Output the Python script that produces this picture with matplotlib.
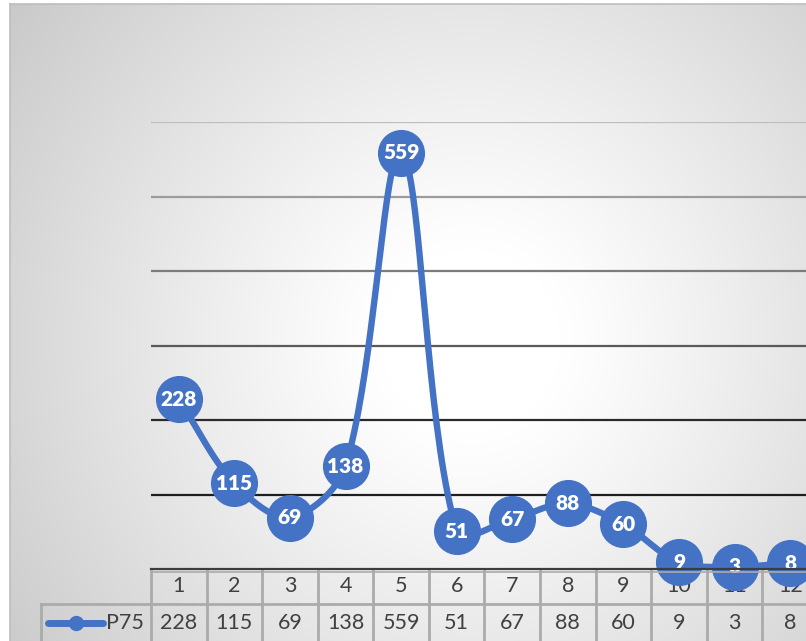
import matplotlib.pyplot as plt
import numpy as np
from matplotlib.transforms import blended_transform_factory

# P75 by month
months = ["1", "2", "3", "4", "5", "6", "7", "8", "9", "10", "11", "12"]
p75 = [228, 115, 69, 138, 559, 51, 67, 88, 60, 9, 3, 8]
series_name = "P75"
y_ticks = [0, 100, 200, 300, 400, 500, 600]

BLUE = "#4472C4"
W, H = 806, 641


def smooth_curve(x, y, sx=1.0, sy=1.0, tension=1 / 3, steps=40):
    # Bezier through every point; control arms are split by the
    # neighbouring segment lengths so short segments do not overshoot
    p = np.column_stack([np.asarray(x, float) * sx, np.asarray(y, float) * sy])
    n = len(p)
    out = []
    t = np.linspace(0, 1, steps)[:, None]
    for i in range(n - 1):
        p0, p3 = p[i], p[i + 1]
        prev = p[i - 1] if i > 0 else p[i]
        nxt = p[i + 2] if i + 2 < n else p[i + 1]
        d0 = p3 - prev
        l_a, l_b = np.linalg.norm(p0 - prev), np.linalg.norm(p3 - p0)
        c1 = p0 + d0 * tension * l_b / max(l_a + l_b, 1e-9)
        d1 = nxt - p0
        l_c = np.linalg.norm(nxt - p3)
        c2 = p3 - d1 * tension * l_b / max(l_b + l_c, 1e-9)
        b = (1 - t) ** 3 * p0 + 3 * (1 - t) ** 2 * t * c1 + 3 * (1 - t) * t ** 2 * c2 + t ** 3 * p3
        out.append(b)
    b = np.vstack(out)
    return b[:, 0] / sx, b[:, 1] / sy


fig = plt.figure(figsize=(W / 100, H / 100), dpi=100)

# Radial gradient background for the chart area
bg = fig.add_axes([0, 0, 1, 1])
gx, gy = np.meshgrid(np.arange(W), np.arange(H))
r = np.hypot(gx - 470, gy - 340)
shade = np.clip((r - 90) / 520, 0, 1)
level = 1.0 - 0.23 * shade ** 1.1
img = np.dstack([level] * 3)
img[:4, :] = 1.0
img[:, :10] = 1.0
bg.imshow(img, extent=[0, W, H, 0], aspect="auto", interpolation="bilinear")
bg.plot([10, 10], [4, H], color="#bdbdbd", lw=1.2)
bg.plot([10, W], [4, 4], color="#bdbdbd", lw=1.2)
bg.set_xlim(0, W)
bg.set_ylim(H, 0)
bg.axis("off")

# Plot area, running past the right edge of the figure
left, right = 151 / W, 818 / W
bottom, top = (H - 569) / H, (H - 122) / H
ax = fig.add_axes([left, bottom, right - left, top - bottom])
ax.patch.set_alpha(0)
ax.set_xlim(0.5, 12.5)
ax.set_ylim(0, 600)
for s in ax.spines.values():
    s.set_visible(False)
ax.set_xticks([])
ax.set_yticks([])

grid_colors = ["#3a3a3a", "#1e1e1e", "#2a2a2a", "#5a5a5a", "#7c7c7c", "#9c9c9c", "#bdbdbd"]
for v, c in zip(y_ticks[1:], grid_colors[1:]):
    ax.axhline(v, color=c, lw=1.6, zorder=1)

xpos = np.arange(1, len(p75) + 1)
px_per_x = (818 - 151) / 12
px_per_y = (569 - 122) / 600
cx, cy = smooth_curve(xpos, p75, px_per_x, px_per_y)
ax.plot(cx, cy, color=BLUE, lw=4.6, solid_capstyle="round", zorder=3, clip_on=False)
ax.scatter(xpos, p75, s=1150, color=BLUE, zorder=4, clip_on=False, linewidths=0)
for x, v in zip(xpos, p75):
    ax.text(x, v, str(v), color="white", fontsize=15, fontweight="heavy",
            family="Lato", ha="center", va="center", zorder=5, clip_on=False)

# Data table beneath the axis
tr = blended_transform_factory(ax.transData, fig.transFigure)
fy = lambda py: (H - py) / H
border = "#ababab"
ax.plot([0.5, 13], [fy(569), fy(569)], transform=tr, color="#3c3c3c", lw=1.6,
        clip_on=False, zorder=6)
ax.plot([0.5, 13], [fy(571.5), fy(571.5)], transform=tr, color=border, lw=1.2,
        clip_on=False, zorder=6)
for k in range(len(months) + 1):
    ax.plot([k + 0.5, k + 0.5], [fy(571), 0], transform=tr, color=border, lw=2,
            clip_on=False, zorder=2)
row_x0 = 0.5 - (151 - 41) / px_per_x
ax.plot([row_x0, 13], [fy(604), fy(604)], transform=tr, color=border, lw=2,
        clip_on=False, zorder=2)
ax.plot([row_x0, row_x0], [fy(604), 0], transform=tr, color=border, lw=2,
        clip_on=False, zorder=2)
for x, m, v in zip(xpos, months, p75):
    ax.text(x, fy(586), m, transform=tr, ha="center", va="center", fontsize=15.5,
            family="Lato", color="#404040", clip_on=False)
    ax.text(x, fy(623), str(v), transform=tr, ha="center", va="center", fontsize=15.5,
            family="Lato", color="#404040", clip_on=False)

# Legend key inside the table row
bg.plot([48, 103], [623, 623], color=BLUE, lw=5, solid_capstyle="round")
bg.plot([76], [623], "o", color=BLUE, ms=10)
bg.text(106, 623, series_name, ha="left", va="center", fontsize=15.5,
        family="Lato", color="#404040")

fig.savefig("out.png", dpi=100)
